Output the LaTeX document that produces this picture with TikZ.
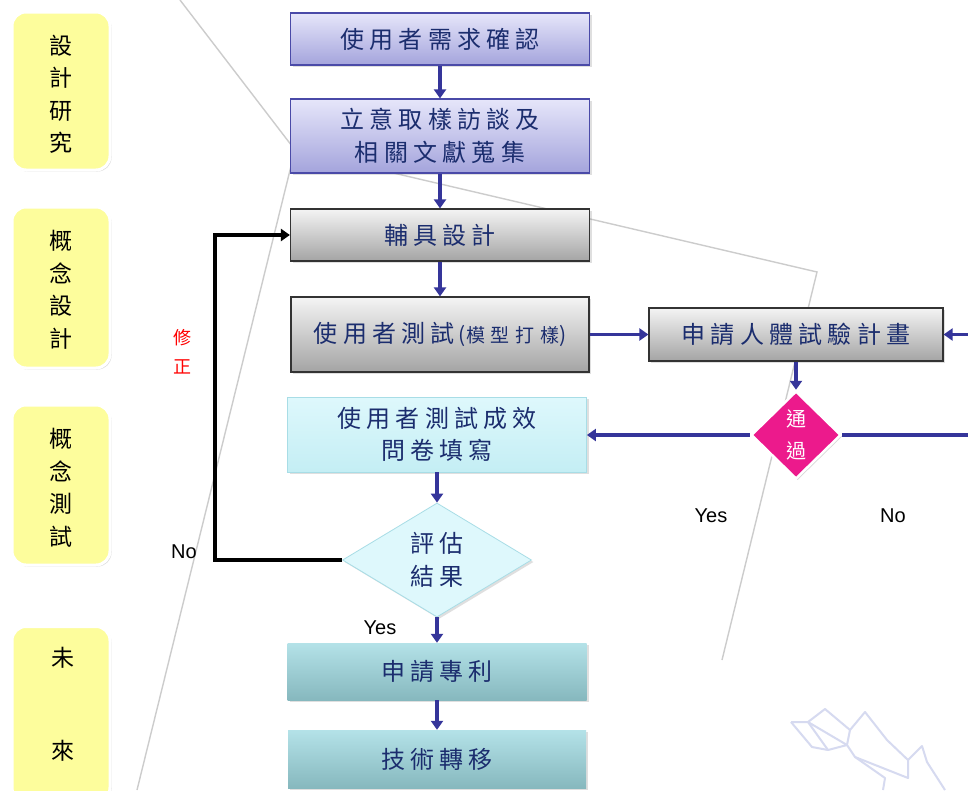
\documentclass[tikz,border=0pt]{standalone}
\usepackage{fontspec}
\setmainfont{Liberation Sans}
\newfontfamily\cjk[LetterSpace=22]{Noto Sans CJK TC}
\newfontfamily\cjksmall[LetterSpace=30]{Noto Sans CJK TC}
\newfontfamily\cjkplain{Noto Sans CJK TC}
\usetikzlibrary{shapes.geometric,arrows.meta,shadows}
\definecolor{arrowblue}{HTML}{35359A}
\definecolor{navytext}{HTML}{1B2D6E}
\definecolor{labelyellow}{HTML}{FDFD9C}
\definecolor{lavtop}{HTML}{E6E6FA}
\definecolor{lavbot}{HTML}{A4A4DC}
\definecolor{lavborder}{HTML}{4A4AA8}
\definecolor{graytop}{HTML}{F4F4F4}
\definecolor{graybot}{HTML}{A4A4A4}
\definecolor{grayborder}{HTML}{333333}
\definecolor{cyantop}{HTML}{DEF8FC}
\definecolor{cyanbot}{HTML}{C4EEF4}
\definecolor{cyanborder}{HTML}{A8DDE6}
\definecolor{tealtop}{HTML}{B4E2E8}
\definecolor{tealbot}{HTML}{86B8BE}
\definecolor{passpink}{HTML}{EC1A8C}
\definecolor{bgline}{HTML}{CCCCCC}
\definecolor{decor}{HTML}{D6DAF0}
\tikzset{
  x=1pt, y=-1pt,
  shade/.style={drop shadow={shadow xshift=2pt, shadow yshift=-2pt, opacity=0.25}},
  boxbase/.style={rectangle, inner sep=0pt, align=center, text=navytext,
    font=\cjk\fontsize{24}{32.5}\selectfont, shade},
  lavbox/.style={boxbase, top color=lavtop, bottom color=lavbot, draw=lavborder, line width=1.2pt},
  graybox/.style={boxbase, top color=graytop, bottom color=graybot, draw=grayborder, line width=1.2pt},
  cyanbox/.style={boxbase, top color=cyantop, bottom color=cyanbot, draw=cyanborder, line width=0.8pt},
  tealbox/.style={boxbase, top color=tealtop, bottom color=tealbot, draw=none},
  labelbox/.style={rectangle, rounded corners=14pt, fill=labelyellow, draw=white, line width=3pt,
    drop shadow={shadow xshift=1.5pt, shadow yshift=-1.5pt, opacity=0.3}},
  labeltext/.style={align=center, font=\cjkplain\fontsize{23}{32.5}\selectfont, text=black},
  flow/.style={draw=arrowblue, line width=3.8pt, -{Triangle[length=9pt,width=12pt]}},
  flowline/.style={draw=arrowblue, line width=3.8pt},
  back/.style={draw=black, line width=4pt, -{Triangle[length=9pt,width=12pt]}},
  yn/.style={font=\fontsize{20}{24}\selectfont, text=black},
}
\begin{document}
\begin{tikzpicture}
\useasboundingbox (0,0) rectangle (968,790);
\fill[white] (0,0) rectangle (968,790);

% background decorative lines
\coordinate (g1) at (180,0);
\coordinate (g2) at (295,150);
\coordinate (g3) at (817,272);
\coordinate (g4) at (722,660);
\coordinate (g5) at (137,790);
\draw[bgline, line width=1.4pt] (g1) -- (g2) -- (g3) -- (g4);
\draw[bgline, line width=1.4pt] (g2) -- (g5);

% decorative crane
\begin{scope}[decor, line width=2pt, line join=round]
\draw (791,722) -- (808,722) -- (825,709) -- (850,730) -- (865,712) -- (887,740) -- (908,760) -- (922,746) -- (927,762) -- (945,790);
\draw (791,722) -- (812,747) -- (828,750) -- (847,745) -- (808,722);
\draw (808,722) -- (828,750);
\draw (850,730) -- (847,745) -- (855,757) -- (908,778) -- (908,760);
\draw (855,757) -- (885,778) -- (883,790);
\end{scope}

% left stage labels
\node[labelbox, minimum width=98pt, minimum height=158pt] (L1) at (61,91) {};
\node[labeltext] (L1t) at (61,94) {設\\計\\研\\究};
\node[labelbox, minimum width=98pt, minimum height=161pt] (L2) at (61,287.5) {};
\node[labeltext] (L2t) at (61,290) {概\\念\\設\\計};
\node[labelbox, minimum width=98pt, minimum height=160pt] (L3) at (61,485) {};
\node[labeltext] (L3t) at (61,488) {概\\念\\測\\試};
\node[labelbox, minimum width=98pt, minimum height=175pt] (L4) at (61,714) {};
\node[labeltext] (L4a) at (63,658) {未};
\node[labeltext] (L4b) at (63,751) {來};

% flow boxes
\node[lavbox, minimum width=299pt, minimum height=52pt] (A) at (440,39) {使用者需求確認};
\node[lavbox, minimum width=299pt, minimum height=74pt] (B) at (440,136) {立意取樣訪談及\\相關文獻蒐集};
\node[graybox, minimum width=299pt, minimum height=52pt] (C) at (440,235) {輔具設計};
\node[graybox, minimum width=298pt, minimum height=75pt] (D) at (440,334.5) {使用者測試\hspace{4pt}{\cjkplain\fontsize{21}{20}\selectfont(}{\cjksmall\fontsize{19}{20}\selectfont 模型打樣}{\cjkplain\fontsize{21}{20}\selectfont)}};
\node[graybox, minimum width=294pt, minimum height=53pt] (E) at (796,334.5) {申請人體試驗計畫};
\node[diamond, inner sep=0pt, minimum width=90pt, minimum height=88pt, fill=passpink, draw=white,
      line width=2.5pt, align=center, text=white, font=\cjkplain\fontsize{20}{32}\selectfont,
      drop shadow={shadow xshift=1.5pt, shadow yshift=-1.5pt, opacity=0.3}] (P) at (796,435) {通\\過};
\node[cyanbox, minimum width=299pt, minimum height=75pt] (F) at (437,434.5) {使用者測試成效\\問卷填寫};
\node[diamond, inner sep=0pt, minimum width=189pt, minimum height=114pt, fill=cyantop, draw=cyanborder,
      line width=0.8pt, align=center, text=navytext, font=\cjk\fontsize{24}{33}\selectfont, shade] (V) at (437,560) {評估\\結果};
\node[tealbox, minimum width=299pt, minimum height=57pt] (G) at (437,671.5) {申請專利};
\node[tealbox, minimum width=298pt, minimum height=58pt] (H) at (437,759) {技術轉移};

% free ends
\coordinate (rin) at (968,334.5);
\coordinate (rout) at (968,435);
\coordinate (fb) at (215,560);

% connectors
\draw[flow] (A) -- (B);
\draw[flow] (B) -- (C);
\draw[flow] (C) -- (D);
\draw[flow] (D) -- (E);
\draw[flow] (rin) -- (E);
\draw[flow] (E) -- (P);
\draw[flow] (P.west) -- (P.west -| F.east);
\draw[flowline] (P.east) -- (rout);
\draw[flow] (F) -- (V);
\draw[flow] (V) -- (G);
\draw[flow] (G) -- (H);
\draw[back] (V.west) -- (fb) |- (C.west);

% labels
\node[text=red, align=center, font=\cjkplain\fontsize{18}{29}\selectfont] (fix) at (182,352) {修\\正};
\node[yn] (no1) at (184,552) {No};
\node[yn] (yes1) at (380,628) {Yes};
\node[yn] (yes2) at (711,516) {Yes};
\node[yn] (no2) at (893,516) {No};
\end{tikzpicture}
\end{document}
